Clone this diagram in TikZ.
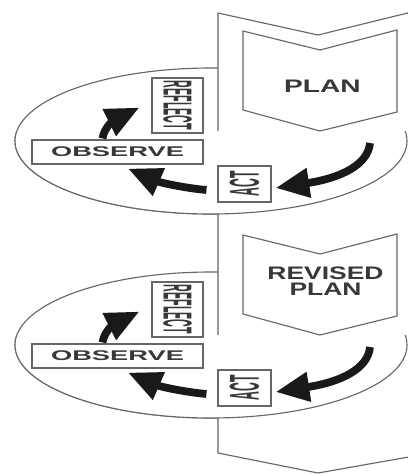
\documentclass[tikz,border=0pt]{standalone}
\usepackage{fontspec}
\setsansfont{Liberation Sans}
\usetikzlibrary{arrows.meta,calc}

\begin{document}
\begin{tikzpicture}[
  x=0.025cm, y=-0.025cm,
  edge/.style={draw=black!60, line width=0.8pt},
  tag/.style={edge, fill=white, inner sep=0pt},
  word/.style={font=\fontsize{10}{12}\sffamily\bfseries, text=black!78},
  cycle arrow/.style={-{Triangle[length=24pt,width=20pt]}, line width=5.5pt, black!90}
]
\useasboundingbox (0,0) rectangle (408,474);
\clip (0,0) rectangle (408,474);

% loops, back half
\foreach \dy in {0,204}
  \draw[edge, fill=white] (211,141+\dy) ellipse [x radius=196, y radius=73];

% the big band
\draw[edge, fill=white] (218,13) -- (318,35) -- (420,10) -- (420,455)
  -- (318,473) -- (218,453) -- cycle;

\foreach \s/\dy in {1/0, 2/204} {
  % loop, front half
  \begin{scope}
    \clip (0,131+\dy) rectangle (408,230+\dy);
    \draw[edge, fill=white] (211,141+\dy) ellipse [x radius=196, y radius=73];
  \end{scope}
  \draw[edge] (243,31+\dy) -- (320,50+\dy) -- (397,30+\dy) -- (397,112+\dy)
    -- (320,131+\dy) -- (243,110+\dy) -- cycle;
  \node[tag, word, minimum width=1.275cm, minimum height=1.375cm] (refl\s) at (177.5,105.5+\dy)
    {\rotatebox{-90}{\scalebox{0.76}[2.88]{REFLECT}}};
  \node[tag, word, minimum width=4.275cm, minimum height=0.6cm] (obs\s) at (117.5,152+\dy)
    {\scalebox{1.94}[1]{OBSERVE}};
  \node[tag, word, minimum width=1.325cm, minimum height=0.9cm] (act\s) at (244.5,184+\dy)
    {\rotatebox{90}{\scalebox{0.87}[2.98]{ACT}}};
  \coordinate (in\s) at (370,143+\dy);
  \draw[cycle arrow] (in\s) .. controls +(-2,22) and +(65,-10) .. ($(act\s.east)+(4,4)$);
  \draw[cycle arrow] ($(act\s.west)+(-11,6)$) .. controls +(-22,-2) and +(32,14) .. ($(obs\s.south)+(10.5,4)$);
  \draw[cycle arrow] ($(obs\s.north)+(-15,-1)$) .. controls +(1.5,-11) and +(-25,12.5) .. ($(refl\s.west)+(-12,2)$);
}

\node[word] (plan1) at (322.5,86) {\scalebox{2.0}[1.29]{PLAN}};
\node[word] (plan2) at (325.5,283)
  {\scalebox{1.88}[1.29]{\begin{tabular}{@{}c@{}}REVISED\\[-3.2pt]PLAN\end{tabular}}};
\end{tikzpicture}
\end{document}
